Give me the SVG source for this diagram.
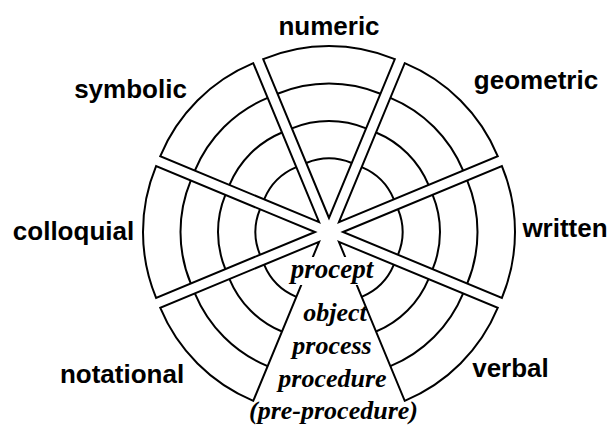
<svg xmlns="http://www.w3.org/2000/svg" width="610" height="426" viewBox="0 0 610 426">
<style>
.sl{fill:#fff;stroke:#000;stroke-width:2;stroke-linejoin:miter}
.ring{fill:none;stroke:#000;stroke-width:2}
.lbl{font-family:"Liberation Sans",Arial,sans-serif;font-weight:bold;font-size:26px;fill:#000;text-anchor:middle}
.lev{font-family:"Liberation Serif","Times New Roman",serif;font-weight:bold;font-style:italic;font-size:26px;fill:#000;text-anchor:middle}
</style>
<defs>
<g id="slice">
<path class="sl" d="M0,0 L158.91,-65.82 A172,172 0 0 1 158.91,65.82 Z"/>
<path class="ring" d="M124.26,-51.47 A134.5,134.5 0 0 1 124.26,51.47 M89.62,-37.12 A97,97 0 0 1 89.62,37.12 M54.97,-22.77 A59.5,59.5 0 0 1 54.97,22.77"/>
</g>
</defs>
<rect width="610" height="426" fill="#fff"/>
<g id="numeric"><use href="#slice" transform="translate(329,232) rotate(-90) translate(14,0)"/><text class="lbl" x="329" y="35">numeric</text></g>
<g id="geometric"><use href="#slice" transform="translate(329,232) rotate(-45) translate(14,0)"/><text class="lbl" x="536" y="89">geometric</text></g>
<g id="written"><use href="#slice" transform="translate(329,232) translate(14,0)"/><text class="lbl" x="565" y="237">written</text></g>
<g id="verbal"><use href="#slice" transform="translate(329,232) rotate(45) translate(14,0)"/><text class="lbl" x="510.5" y="377">verbal</text></g>
<g id="notational"><use href="#slice" transform="translate(329,232) rotate(135) translate(14,0)"/><text class="lbl" x="122" y="383">notational</text></g>
<g id="colloquial"><use href="#slice" transform="translate(329,232) rotate(180) translate(14,0)"/><text class="lbl" x="73.5" y="240">colloquial</text></g>
<g id="symbolic"><use href="#slice" transform="translate(329,232) rotate(-135) translate(14,0)"/><text class="lbl" x="130.5" y="98">symbolic</text></g>
<g id="levels">
<rect x="300" y="257" width="66" height="28" fill="#fff"/>
<text class="lev" x="332" y="278" style="font-size:27px">procept</text>
<text class="lev" x="335" y="321">object</text>
<text class="lev" x="332" y="354">process</text>
<text class="lev" x="332.5" y="387">procedure</text>
<text class="lev" x="333.5" y="419">(pre-procedure)</text>
</g>
</svg>
